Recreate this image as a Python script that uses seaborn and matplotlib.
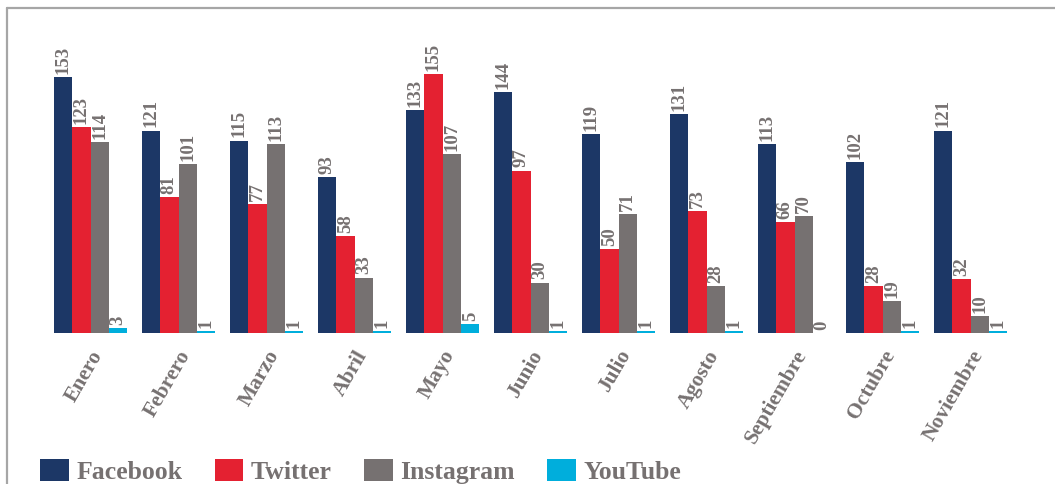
import matplotlib
matplotlib.use("Agg")
import matplotlib.pyplot as plt
import matplotlib.transforms as mtransforms
from matplotlib.lines import Line2D
from matplotlib.patches import Patch
import seaborn as sns
import pandas as pd

months = ["Enero", "Febrero", "Marzo", "Abril", "Mayo", "Junio", "Julio",
          "Agosto", "Septiembre", "Octubre", "Noviembre"]
platforms = ["Facebook", "Twitter", "Instagram", "YouTube"]
facebook = [153, 121, 115, 93, 133, 144, 119, 131, 113, 102, 121]
twitter = [123, 81, 77, 58, 155, 97, 50, 73, 66, 28, 32]
instagram = [114, 101, 113, 33, 107, 30, 71, 28, 70, 19, 10]
youtube = [3, 1, 1, 1, 5, 1, 1, 1, 0, 1, 1]
colors = ["#1C3766", "#E42131", "#767171", "#00AEDC"]
text_gray = "#767171"

series = {"Facebook": facebook, "Twitter": twitter,
          "Instagram": instagram, "YouTube": youtube}
rows = []
for p in platforms:
    for m, v in zip(months, series[p]):
        rows.append({"Mes": m, "Red": p, "Valor": v})
df = pd.DataFrame(rows)

sns.set_theme(style="white")
plt.rcParams["font.family"] = ["Liberation Serif", "DejaVu Serif"]

fig = plt.figure(figsize=(10.55, 4.85), dpi=100)
W, H = 1055, 485
left_px, right_px = 46.5, 1014.5
base_px = 333.7
scale = 1.671  # px per unit
ymax = 165
top_px = base_px - ymax * scale
ax = fig.add_axes([left_px / W, (H - base_px) / H,
                   (right_px - left_px) / W, (base_px - top_px) / H])

sns.barplot(data=df, x="Mes", y="Valor", hue="Red", order=months,
            hue_order=platforms, palette=colors, width=0.84, gap=0,
            saturation=1, ax=ax, legend=False, edgecolor="none")

ax.set_xlim(-0.5, len(months) - 0.5)
ax.set_ylim(0, ymax)
for s in ax.spines.values():
    s.set_visible(False)
ax.set_yticks([])
ax.set_xlabel("")
ax.set_ylabel("")
ax.tick_params(axis="x", length=0, pad=13)
ax.set_xticks(range(len(months)))
ax.set_xticklabels(months, rotation=60, ha="right", va="center",
                   rotation_mode="anchor", fontsize=15.5, fontweight="bold",
                   color=text_gray)
offset = mtransforms.ScaledTranslation(8 / 100, 0, fig.dpi_scale_trans)
for lbl in ax.get_xticklabels():
    lbl.set_transform(lbl.get_transform() + offset)

for cont in ax.containers:
    ax.bar_label(cont, labels=[f"{int(b.get_height())}" for b in cont],
                 rotation=90, padding=3, fontsize=13.5, fontweight="bold",
                 color=text_gray, clip_on=False)

handles = [Patch(facecolor=c, edgecolor="none") for c in colors]
leg = fig.legend(handles, platforms, loc="lower left",
                 bbox_to_anchor=(30 / W, -0.02), ncol=4, frameon=False,
                 prop={"family": "Liberation Serif", "weight": "bold", "size": 18.5},
                 handlelength=1.1, handleheight=0.95, handletextpad=0.3,
                 columnspacing=1.27, borderaxespad=0.0)
for t in leg.get_texts():
    t.set_color(text_gray)

frame_color = "#A6A6A6"
fig.add_artist(Line2D([7 / W, 1.0], [1 - 9 / H, 1 - 9 / H],
                      transform=fig.transFigure, color=frame_color, lw=1.6))
fig.add_artist(Line2D([7 / W, 7 / W], [0.0, 1 - 9 / H],
                      transform=fig.transFigure, color=frame_color, lw=1.6))

fig.savefig("out.png", dpi=100, facecolor="white")
